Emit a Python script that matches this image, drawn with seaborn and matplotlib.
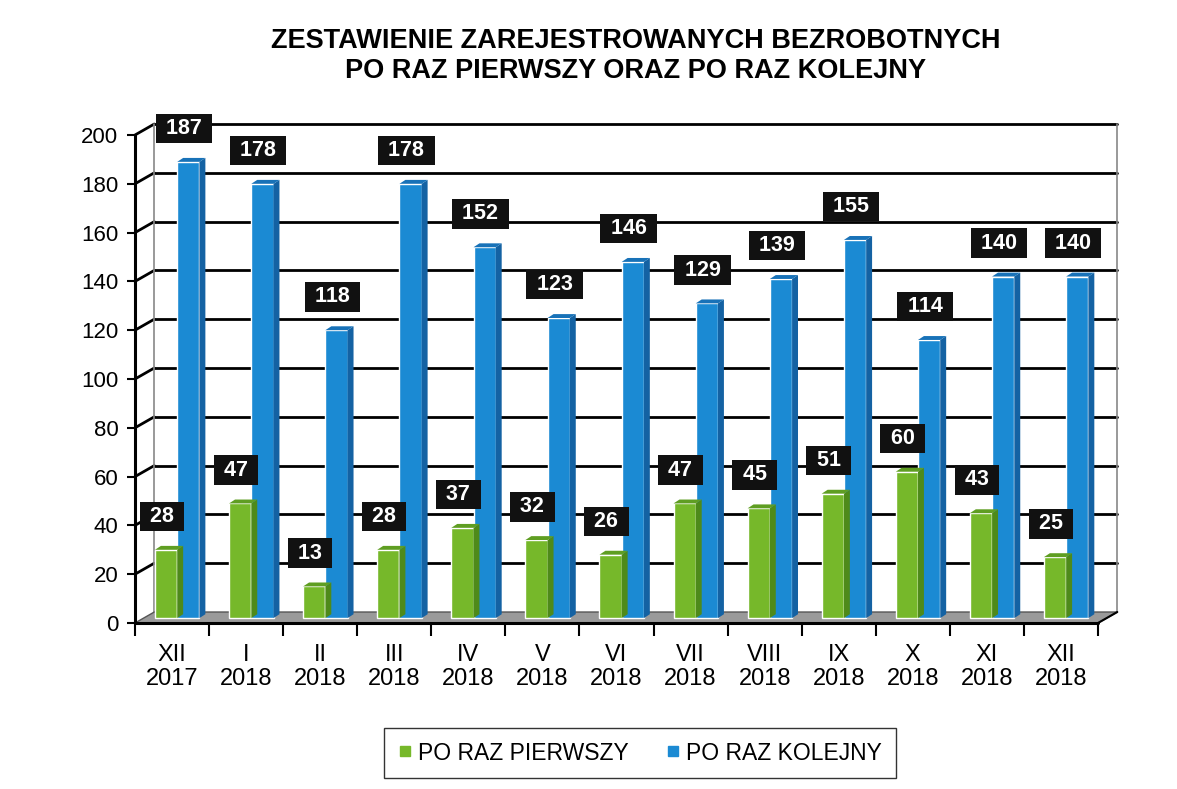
import pandas as pd
import numpy as np
import matplotlib
matplotlib.use("Agg")
import matplotlib.pyplot as plt
import matplotlib.transforms as mtransforms
from matplotlib.patches import Polygon
import seaborn as sns

# --- dati ---
months = ["XII\n2017", "I\n2018", "II\n2018", "III\n2018", "IV\n2018", "V\n2018", "VI\n2018",
          "VII\n2018", "VIII\n2018", "IX\n2018", "X\n2018", "XI\n2018", "XII\n2018"]
pierwszy = [28, 47, 13, 28, 37, 32, 26, 47, 45, 51, 60, 43, 25]
kolejny = [187, 178, 118, 178, 152, 123, 146, 129, 139, 155, 114, 140, 140]
series_names = ["PO RAZ PIERWSZY", "PO RAZ KOLEJNY"]
y_ticks = list(range(0, 201, 20))
title = "ZESTAWIENIE ZAREJESTROWANYCH BEZROBOTNYCH\nPO RAZ PIERWSZY ORAZ PO RAZ KOLEJNY"

sns.set_style("white")
plt.rcParams["font.family"] = ["Liberation Sans", "DejaVu Sans"]
plt.rcParams.update({"text.color": "black", "xtick.color": "black",
                     "ytick.color": "black", "axes.labelcolor": "black"})

front = {"PO RAZ PIERWSZY": "#76b82a", "PO RAZ KOLEJNY": "#1b8ad3"}
side = {"PO RAZ PIERWSZY": "#4e8a1a", "PO RAZ KOLEJNY": "#1462a3"}
top = {"PO RAZ PIERWSZY": "#5f9e22", "PO RAZ KOLEJNY": "#1872b8"}

df = pd.DataFrame({
    "miesiac": months * 2,
    "seria": [series_names[0]] * len(months) + [series_names[1]] * len(months),
    "wartosc": pierwszy + kolejny,
})

fig = plt.figure(figsize=(11.77, 7.89), dpi=100)
ax = fig.add_axes([0.1147, 0.2104, 0.8182, 0.6185])

# glebokosc "3D" sciany w jednostkach danych
DX, DY = 0.26, 4.5
# przesuniecie slupkow (polowa glebokosci) i glebokosc slupka
BX, BY = 0.07, 2.0
SX, SY = 0.08, 1.6

sns.barplot(data=df, x="miesiac", y="wartosc", hue="seria", palette=front,
            width=0.6, dodge=True, ax=ax, legend=False, saturation=1, zorder=3)

ax.set_xlim(-0.5, 12.5)
ax.set_ylim(0, 200)
for s in ax.spines.values():
    s.set_visible(False)

# sciana tylna - linie siatki
for v in y_ticks[1:]:
    ax.plot([-0.5 + DX, 12.5 + DX], [v + DY, v + DY], color="black", lw=2, zorder=1, clip_on=False)
    ax.plot([-0.5, -0.5 + DX], [v, v + DY], color="black", lw=2, zorder=1, clip_on=False)
# podloga
ax.add_patch(Polygon([(-0.5, 0), (12.5, 0), (12.5 + DX, DY), (-0.5 + DX, DY)],
                     closed=True, facecolor="#9a9a9a", edgecolor="#555555", lw=1, zorder=2, clip_on=False))
ax.plot([-0.5 + DX, -0.5 + DX], [DY, 200 + DY], color="#888888", lw=1.2, zorder=1, clip_on=False)
ax.plot([12.5 + DX, 12.5 + DX], [DY, 200 + DY], color="#888888", lw=1.2, zorder=1, clip_on=False)
ax.plot([-0.5, 12.5], [0, 0], color="black", lw=2.2, zorder=6, clip_on=False)
ax.plot([12.5, 12.5 + DX], [0, DY], color="black", lw=1.5, zorder=6, clip_on=False)
ax.plot([-0.5, -0.5], [0, 200], color="black", lw=2.2, zorder=6, clip_on=False)

shift = mtransforms.Affine2D().translate(BX, BY) + ax.transData
for name, cont in zip(series_names, ax.containers):
    for bar in cont:
        x, w, h = bar.get_x(), bar.get_width(), bar.get_height()
        bar.set_transform(shift)
        bar.set_clip_on(False)
        ax.add_patch(Polygon([(x + w, 0), (x + w + SX, SY), (x + w + SX, h + SY), (x + w, h)],
                             closed=True, facecolor=side[name], edgecolor="none",
                             transform=shift, zorder=3, clip_on=False))
        ax.add_patch(Polygon([(x, h), (x + SX, h + SY), (x + w + SX, h + SY), (x + w, h)],
                             closed=True, facecolor=top[name], edgecolor="none",
                             transform=shift, zorder=3, clip_on=False))
        ax.annotate(f" {int(h)} ", xy=(x + w / 2 + BX, h + BY), xytext=(-3, 24),
                    textcoords="offset points", ha="center", va="center",
                    fontsize=15.5, fontweight="bold", color="white", zorder=8,
                    bbox=dict(boxstyle="square,pad=0.2", facecolor="#111111", edgecolor="none"))

ax.set_yticks(y_ticks)
ax.set_yticklabels([str(v) for v in y_ticks], fontsize=16)
ax.tick_params(axis="y", length=6, width=1.5, color="black", pad=6, left=True)
ax.set_xticks(range(len(months)))
ax.set_xticklabels(months, fontsize=17, linespacing=1.1)
ax.tick_params(axis="x", which="major", length=0, pad=15)
ax.set_xticks(np.arange(-0.5, 13, 1), minor=True)
ax.tick_params(axis="x", which="minor", length=9, width=1.5, color="black", bottom=True)
ax.set_xlabel("")
ax.set_ylabel("")

fig.text(0.54, 0.929, title, ha="center", va="center", fontsize=19.5, fontweight="bold",
         linespacing=1.2, color="black")

handles = [plt.Line2D([], [], marker="s", linestyle="none", markersize=7,
                      markerfacecolor=front[n], markeredgecolor=front[n]) for n in series_names]
fig.legend(handles, series_names, loc="center", bbox_to_anchor=(640 / 1177, 1 - 753 / 789),
           ncol=2, fontsize=16.5, frameon=True, fancybox=False, edgecolor="black",
           handlelength=0.6, handletextpad=0.3, columnspacing=1.6, borderpad=0.6,
           borderaxespad=0)

fig.savefig("out.png", dpi=100, facecolor="white")
